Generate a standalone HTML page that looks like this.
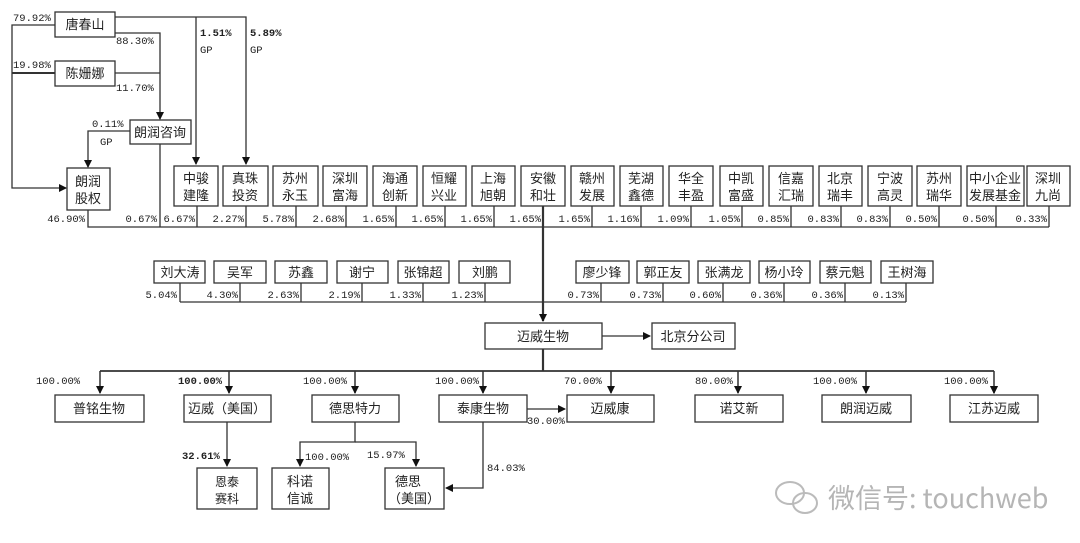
<!DOCTYPE html>
<html><head><meta charset="utf-8"><style>
html,body{margin:0;padding:0;background:#fff;}
svg{display:block;}
.b{fill:#fff;stroke:#333;stroke-width:1.3;}
.l{stroke:#333;stroke-width:1.3;fill:none;}
.t{font-family:"Liberation Sans","Noto Sans CJK SC",sans-serif;font-size:13px;fill:#222;text-anchor:middle;}
.p{font-family:"Liberation Mono","Noto Sans CJK SC",monospace;font-size:10.5px;fill:#222;}
.r{text-anchor:end;}
.bd{font-weight:bold;}
</style></head><body>
<svg width="1080" height="543" viewBox="0 0 1080 543" xmlns="http://www.w3.org/2000/svg">
<defs><marker id="a" markerWidth="8" markerHeight="8" refX="7" refY="4" orient="auto" markerUnits="userSpaceOnUse"><path d="M0,0 L8,4 L0,8 z" fill="#111"/></marker></defs>

<!-- top-left structure -->
<rect class="b" x="55" y="12" width="60" height="25"/><text class="t" x="85" y="29">唐春山</text>
<rect class="b" x="55" y="61" width="60" height="25"/><text class="t" x="85" y="78">陈姗娜</text>
<rect class="b" x="130" y="120" width="61" height="24"/><text class="t" x="160" y="137">朗润咨询</text>
<rect class="b" x="67" y="168" width="43" height="42"/><text class="t" x="88" y="186">朗润</text><text class="t" x="88" y="203">股权</text>

<path class="l" d="M55,25 H12 V188 H66" marker-end="url(#a)"/>
<path class="l" style="stroke-width:2" d="M55,73 H12"/>
<path class="l" d="M115,33 H160 V119" marker-end="url(#a)"/>
<path class="l" d="M115,73 H160"/>
<path class="l" d="M130,131 H88 V167" marker-end="url(#a)"/>
<path class="l" d="M115,17 H246 V164" marker-end="url(#a)"/>
<path class="l" d="M196,17 V164" marker-end="url(#a)"/>
<text class="p" x="13" y="21">79.92%</text>
<text class="p" x="116" y="44">88.30%</text>
<text class="p" x="13" y="68">19.98%</text>
<text class="p" x="116" y="91">11.70%</text>
<text class="p" x="92" y="127">0.11%</text>
<text class="p" x="100" y="145">GP</text>
<text class="p bd" x="200" y="36">1.51%</text><text class="p" x="200" y="53">GP</text>
<text class="p bd" x="250" y="36">5.89%</text><text class="p" x="250" y="53">GP</text>

<!-- top row -->
<g>
<rect class="b" x="174" y="166" width="44" height="40"/><text class="t" x="196" y="183">中骏</text><text class="t" x="196" y="200">建隆</text>
<rect class="b" x="223" y="166" width="45" height="40"/><text class="t" x="245" y="183">真珠</text><text class="t" x="245" y="200">投资</text>
<rect class="b" x="273" y="166" width="45" height="40"/><text class="t" x="295" y="183">苏州</text><text class="t" x="295" y="200">永玉</text>
<rect class="b" x="323" y="166" width="44" height="40"/><text class="t" x="345" y="183">深圳</text><text class="t" x="345" y="200">富海</text>
<rect class="b" x="373" y="166" width="44" height="40"/><text class="t" x="395" y="183">海通</text><text class="t" x="395" y="200">创新</text>
<rect class="b" x="423" y="166" width="43" height="40"/><text class="t" x="444" y="183">恒耀</text><text class="t" x="444" y="200">兴业</text>
<rect class="b" x="472" y="166" width="43" height="40"/><text class="t" x="493" y="183">上海</text><text class="t" x="493" y="200">旭朝</text>
<rect class="b" x="521" y="166" width="44" height="40"/><text class="t" x="543" y="183">安徽</text><text class="t" x="543" y="200">和壮</text>
<rect class="b" x="571" y="166" width="43" height="40"/><text class="t" x="592" y="183">赣州</text><text class="t" x="592" y="200">发展</text>
<rect class="b" x="620" y="166" width="43" height="40"/><text class="t" x="641" y="183">芜湖</text><text class="t" x="641" y="200">鑫德</text>
<rect class="b" x="669" y="166" width="44" height="40"/><text class="t" x="691" y="183">华全</text><text class="t" x="691" y="200">丰盈</text>
<rect class="b" x="720" y="166" width="43" height="40"/><text class="t" x="741" y="183">中凯</text><text class="t" x="741" y="200">富盛</text>
<rect class="b" x="769" y="166" width="44" height="40"/><text class="t" x="791" y="183">信嘉</text><text class="t" x="791" y="200">汇瑞</text>
<rect class="b" x="819" y="166" width="43" height="40"/><text class="t" x="840" y="183">北京</text><text class="t" x="840" y="200">瑞丰</text>
<rect class="b" x="868" y="166" width="44" height="40"/><text class="t" x="890" y="183">宁波</text><text class="t" x="890" y="200">高灵</text>
<rect class="b" x="917" y="166" width="44" height="40"/><text class="t" x="939" y="183">苏州</text><text class="t" x="939" y="200">瑞华</text>
<rect class="b" x="967" y="166" width="57" height="40"/><text class="t" x="995" y="183">中小企业</text><text class="t" x="995" y="200">发展基金</text>
<rect class="b" x="1027" y="166" width="43" height="40"/><text class="t" x="1048" y="183">深圳</text><text class="t" x="1048" y="200">九尚</text>
</g>
<path class="l" d="M88,210 V227 H1049 M160,144 V227 M197,206V227 M246,206V227 M296,206V227 M346,206V227 M396,206V227 M445,206V227 M494,206V227 M592,206V227 M641,206V227 M691,206V227 M742,206V227 M791,206V227 M841,206V227 M890,206V227 M939,206V227 M996,206V227 M1049,206V227"/>
<path class="l" style="stroke-width:2.2" d="M543,206 V321" marker-end="url(#a)"/>
<g class="p r" text-anchor="end">
<text class="p r" x="85" y="222">46.90%</text>
<text class="p r" x="157" y="222">0.67%</text>
<text class="p r" x="195" y="222">6.67%</text>
<text class="p r" x="244" y="222">2.27%</text>
<text class="p r" x="294" y="222">5.78%</text>
<text class="p r" x="344" y="222">2.68%</text>
<text class="p r" x="394" y="222">1.65%</text>
<text class="p r" x="443" y="222">1.65%</text>
<text class="p r" x="492" y="222">1.65%</text>
<text class="p r" x="541" y="222">1.65%</text>
<text class="p r" x="590" y="222">1.65%</text>
<text class="p r" x="639" y="222">1.16%</text>
<text class="p r" x="689" y="222">1.09%</text>
<text class="p r" x="740" y="222">1.05%</text>
<text class="p r" x="789" y="222">0.85%</text>
<text class="p r" x="839" y="222">0.83%</text>
<text class="p r" x="888" y="222">0.83%</text>
<text class="p r" x="937" y="222">0.50%</text>
<text class="p r" x="994" y="222">0.50%</text>
<text class="p r" x="1047" y="222">0.33%</text>
</g>

<!-- people row -->
<rect class="b" x="154" y="261" width="51" height="22"/><text class="t" x="180" y="277">刘大涛</text>
<rect class="b" x="214" y="261" width="52" height="22"/><text class="t" x="240" y="277">吴军</text>
<rect class="b" x="275" y="261" width="52" height="22"/><text class="t" x="301" y="277">苏鑫</text>
<rect class="b" x="337" y="261" width="51" height="22"/><text class="t" x="362" y="277">谢宁</text>
<rect class="b" x="398" y="261" width="51" height="22"/><text class="t" x="423" y="277">张锦超</text>
<rect class="b" x="459" y="261" width="51" height="22"/><text class="t" x="485" y="277">刘鹏</text>
<rect class="b" x="576" y="261" width="53" height="22"/><text class="t" x="602" y="277">廖少锋</text>
<rect class="b" x="637" y="261" width="52" height="22"/><text class="t" x="663" y="277">郭正友</text>
<rect class="b" x="698" y="261" width="52" height="22"/><text class="t" x="724" y="277">张满龙</text>
<rect class="b" x="759" y="261" width="51" height="22"/><text class="t" x="784" y="277">杨小玲</text>
<rect class="b" x="820" y="261" width="51" height="22"/><text class="t" x="845" y="277">蔡元魁</text>
<rect class="b" x="881" y="261" width="52" height="22"/><text class="t" x="907" y="277">王树海</text>
<path class="l" d="M180,302 H906 M180,283V302 M240,283V302 M301,283V302 M362,283V302 M423,283V302 M485,283V302 M601,283V302 M663,283V302 M723,283V302 M784,283V302 M845,283V302 M906,283V302"/>
<text class="p r" text-anchor="end" x="177" y="298">5.04%</text>
<text class="p r" text-anchor="end" x="238" y="298">4.30%</text>
<text class="p r" text-anchor="end" x="299" y="298">2.63%</text>
<text class="p r" text-anchor="end" x="360" y="298">2.19%</text>
<text class="p r" text-anchor="end" x="421" y="298">1.33%</text>
<text class="p r" text-anchor="end" x="483" y="298">1.23%</text>
<text class="p r" text-anchor="end" x="599" y="298">0.73%</text>
<text class="p r" text-anchor="end" x="661" y="298">0.73%</text>
<text class="p r" text-anchor="end" x="721" y="298">0.60%</text>
<text class="p r" text-anchor="end" x="782" y="298">0.36%</text>
<text class="p r" text-anchor="end" x="843" y="298">0.36%</text>
<text class="p r" text-anchor="end" x="904" y="298">0.13%</text>

<!-- main company -->
<rect class="b" x="485" y="323" width="117" height="26"/><text class="t" x="543" y="341">迈威生物</text>
<rect class="b" x="652" y="323" width="83" height="26"/><text class="t" x="693" y="341">北京分公司</text>
<path class="l" d="M602,336 H650" marker-end="url(#a)"/>
<path class="l" style="stroke-width:2.2" d="M543,349 V371"/>
<path class="l" style="stroke-width:1.8" d="M100,371 H994"/>
<path class="l" d="M100,371V393 M229,371V393 M355,371V393 M483,371V393 M611,371V393 M738,371V393 M866,371V393 M994,371V393" marker-end="url(#a)"/>
<path class="l" d="M100,371V393" marker-end="url(#a)"/>
<path class="l" d="M229,371V393" marker-end="url(#a)"/>
<path class="l" d="M355,371V393" marker-end="url(#a)"/>
<path class="l" d="M483,371V393" marker-end="url(#a)"/>
<path class="l" d="M611,371V393" marker-end="url(#a)"/>
<path class="l" d="M738,371V393" marker-end="url(#a)"/>
<path class="l" d="M866,371V393" marker-end="url(#a)"/>
<path class="l" d="M994,371V393" marker-end="url(#a)"/>
<text class="p" x="36" y="384">100.00%</text>
<text class="p bd" x="178" y="384">100.00%</text>
<text class="p" x="303" y="384">100.00%</text>
<text class="p" x="435" y="384">100.00%</text>
<text class="p" x="564" y="384">70.00%</text>
<text class="p" x="695" y="384">80.00%</text>
<text class="p" x="813" y="384">100.00%</text>
<text class="p" x="944" y="384">100.00%</text>

<rect class="b" x="55" y="395" width="89" height="27"/><text class="t" x="99" y="413">普铭生物</text>
<rect class="b" x="184" y="395" width="87" height="27"/><text class="t" x="227" y="413">迈威（美国）</text>
<rect class="b" x="312" y="395" width="87" height="27"/><text class="t" x="355" y="413">德思特力</text>
<rect class="b" x="439" y="395" width="88" height="27"/><text class="t" x="483" y="413">泰康生物</text>
<rect class="b" x="567" y="395" width="87" height="27"/><text class="t" x="610" y="413">迈威康</text>
<rect class="b" x="695" y="395" width="88" height="27"/><text class="t" x="739" y="413">诺艾新</text>
<rect class="b" x="822" y="395" width="89" height="27"/><text class="t" x="866" y="413">朗润迈威</text>
<rect class="b" x="950" y="395" width="88" height="27"/><text class="t" x="994" y="413">江苏迈威</text>

<path class="l" d="M527,409 H565" marker-end="url(#a)"/>
<text class="p" x="527" y="424">30.00%</text>

<!-- bottom level -->
<path class="l" d="M227,422 V466" marker-end="url(#a)"/>
<path class="l" d="M355,422 V442 H300 V466" marker-end="url(#a)"/>
<path class="l" d="M355,442 H416 V466" marker-end="url(#a)"/>
<path class="l" d="M483,422 V488 H446" marker-end="url(#a)"/>
<text class="p bd" x="182" y="459">32.61%</text>
<text class="p" x="305" y="460">100.00%</text>
<text class="p" x="367" y="458">15.97%</text>
<text class="p" x="487" y="471">84.03%</text>

<rect class="b" x="197" y="468" width="60" height="41"/><text class="t" x="227" y="486" style="font-size:12px">恩泰</text><text class="t" x="227" y="503" style="font-size:12px">赛科</text>
<rect class="b" x="272" y="468" width="57" height="41"/><text class="t" x="300" y="486">科诺</text><text class="t" x="300" y="503">信诚</text>
<rect class="b" x="385" y="468" width="59" height="41"/><text class="t" x="408" y="486">德思</text><text class="t" x="414" y="503">（美国）</text>

<!-- watermark -->
<g fill="none" stroke="#bbb" stroke-width="2">
<ellipse cx="790" cy="493" rx="14" ry="11"/>
<ellipse cx="805" cy="503" rx="12" ry="10"/>
</g>
<text x="828" y="508" style="font-family:'Noto Sans CJK SC',sans-serif;font-size:27px;fill:#b5b5b5;">微信号: touchweb</text>
</svg>
</body></html>
